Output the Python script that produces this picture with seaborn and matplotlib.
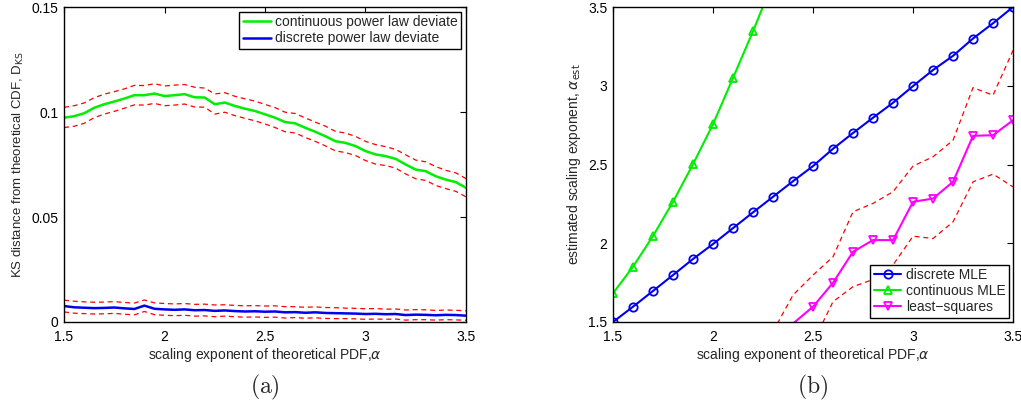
import numpy as np
import matplotlib
matplotlib.use("Agg")
import matplotlib.pyplot as plt
import seaborn as sns

sns.set_style("white")
plt.rcParams['font.family'] = ['Liberation Sans', 'DejaVu Sans']
plt.rcParams['mathtext.fontset'] = 'dejavusans'

# (a) KS distance vs alpha
alpha_a = np.linspace(1.5, 3.5, 41)
cont_ks = [0.0973, 0.0980, 0.0994, 0.1020, 0.1037, 0.1050, 0.1064, 0.1080, 0.1080, 0.1088,
           0.1076, 0.1080, 0.1085, 0.1070, 0.1069, 0.1037, 0.1045, 0.1029, 0.1016, 0.1005,
           0.0989, 0.0973, 0.0952, 0.0946, 0.0925, 0.0906, 0.0885, 0.0861, 0.0853, 0.0838,
           0.0814, 0.0798, 0.0790, 0.0777, 0.0750, 0.0726, 0.0718, 0.0694, 0.0678, 0.0666, 0.0639]
cont_hi = [0.1022, 0.1030, 0.1043, 0.1068, 0.1085, 0.1097, 0.1110, 0.1127, 0.1126, 0.1135,
           0.1124, 0.1128, 0.1131, 0.1118, 0.1114, 0.1086, 0.1092, 0.1075, 0.1063, 0.1052,
           0.1036, 0.1021, 0.0999, 0.0993, 0.0972, 0.0952, 0.0933, 0.0908, 0.0900, 0.0884,
           0.0860, 0.0845, 0.0835, 0.0822, 0.0796, 0.0771, 0.0763, 0.0740, 0.0722, 0.0710, 0.0683]
cont_lo = [0.0926, 0.0932, 0.0946, 0.0973, 0.0990, 0.1003, 0.1018, 0.1034, 0.1033, 0.1041,
           0.1030, 0.1033, 0.1038, 0.1024, 0.1023, 0.0990, 0.0999, 0.0983, 0.0970, 0.0958,
           0.0943, 0.0926, 0.0906, 0.0900, 0.0879, 0.0860, 0.0839, 0.0815, 0.0807, 0.0793,
           0.0769, 0.0752, 0.0745, 0.0733, 0.0705, 0.0682, 0.0674, 0.0650, 0.0635, 0.0622, 0.0596]
disc_ks = [0.0076, 0.0070, 0.0068, 0.0066, 0.0067, 0.0069, 0.0065, 0.0062, 0.0078, 0.0063,
           0.0060, 0.0058, 0.0060, 0.0056, 0.0057, 0.0053, 0.0055, 0.0052, 0.0050, 0.0051,
           0.0049, 0.0050, 0.0046, 0.0047, 0.0044, 0.0046, 0.0043, 0.0042, 0.0041, 0.0040,
           0.0038, 0.0039, 0.0037, 0.0038, 0.0033, 0.0035, 0.0034, 0.0032, 0.0034, 0.0033, 0.0030]
disc_hi = [0.0104, 0.0099, 0.0096, 0.0094, 0.0095, 0.0097, 0.0093, 0.0090, 0.0105, 0.0091,
           0.0088, 0.0086, 0.0088, 0.0084, 0.0085, 0.0081, 0.0082, 0.0079, 0.0077, 0.0078,
           0.0076, 0.0077, 0.0073, 0.0073, 0.0070, 0.0072, 0.0069, 0.0068, 0.0066, 0.0065,
           0.0063, 0.0064, 0.0061, 0.0062, 0.0057, 0.0059, 0.0058, 0.0055, 0.0057, 0.0056, 0.0053]
disc_lo = [0.0048, 0.0042, 0.0040, 0.0038, 0.0039, 0.0041, 0.0037, 0.0034, 0.0050, 0.0035,
           0.0032, 0.0030, 0.0032, 0.0028, 0.0029, 0.0025, 0.0028, 0.0025, 0.0023, 0.0024,
           0.0022, 0.0023, 0.0019, 0.0021, 0.0018, 0.0020, 0.0017, 0.0016, 0.0016, 0.0015,
           0.0013, 0.0014, 0.0013, 0.0014, 0.0009, 0.0011, 0.0011, 0.0009, 0.0011, 0.0010, 0.0008]

# (b) estimated alpha vs true alpha
alpha_b = [1.5, 1.6, 1.7, 1.8, 1.9, 2.0, 2.1, 2.2, 2.3, 2.4, 2.5,
           2.6, 2.7, 2.8, 2.9, 3.0, 3.1, 3.2, 3.3, 3.4, 3.5]
disc_mle = [1.50, 1.597, 1.697, 1.798, 1.90, 1.995, 2.096, 2.196, 2.295, 2.394, 2.49,
            2.60, 2.70, 2.797, 2.892, 2.998, 3.10, 3.19, 3.30, 3.397, 3.50]
alpha_c = [1.5, 1.6, 1.7, 1.8, 1.9, 2.0, 2.1, 2.2, 2.3]
cont_mle = [1.682, 1.851, 2.046, 2.263, 2.502, 2.756, 3.05, 3.346, 3.66]
alpha_ls = [2.3, 2.4, 2.5, 2.6, 2.7, 2.8, 2.9, 3.0, 3.1, 3.2, 3.3, 3.4, 3.5]
ls_est = [1.30, 1.49, 1.597, 1.749, 1.946, 2.02, 2.02, 2.263, 2.284, 2.39, 2.682, 2.686, 2.781]
ls_hi = [1.44, 1.671, 1.798, 1.914, 2.20, 2.253, 2.327, 2.49, 2.549, 2.654, 2.988, 2.94, 3.225]
ls_lo = [1.20, 1.28, 1.37, 1.629, 1.724, 1.77, 1.862, 2.045, 2.03, 2.136, 2.39, 2.439, 2.358]

GREEN = '#00ee00'
BLUE = '#0000ee'
MAGENTA = '#ff00ff'
RED = '#ff0000'

fig = plt.figure(figsize=(10.21, 4.08), dpi=100)
ax1 = fig.add_axes([0.0627, 0.2108, 0.3937, 0.772])
ax2 = fig.add_axes([0.6004, 0.2108, 0.3918, 0.772])

# --- panel (a)
sns.lineplot(x=alpha_a, y=cont_ks, ax=ax1, color=GREEN, lw=1.8,
             label='continuous power law deviate', sort=False)
sns.lineplot(x=alpha_a, y=disc_ks, ax=ax1, color=BLUE, lw=1.8,
             label='discrete power law deviate', sort=False)
for band in (cont_hi, cont_lo, disc_hi, disc_lo):
    sns.lineplot(x=alpha_a, y=band, ax=ax1, color=RED, lw=0.9,
                 linestyle=(0, (4, 3)), sort=False, legend=False)

ax1.set_xlim(1.5, 3.5)
ax1.set_ylim(0, 0.15)
ax1.set_xticks([1.5, 2, 2.5, 3, 3.5])
ax1.set_xticklabels(['1.5', '2', '2.5', '3', '3.5'])
ax1.set_yticks([0, 0.05, 0.1, 0.15])
ax1.set_yticklabels(['0', '0.05', '0.1', '0.15'])
ax1.set_xlabel(r'scaling exponent of theoretical PDF,$\alpha$', fontsize=10, labelpad=1)
ax1.set_ylabel(r'KS distance from theoretical CDF, D$_{\mathrm{KS}}$', fontsize=9.5, labelpad=4)
leg1 = ax1.legend(loc='upper right', fontsize=10, frameon=True, fancybox=False,
                  borderaxespad=0.35, handlelength=2.0, handletextpad=0.3,
                  borderpad=0.25, labelspacing=0.15)

# --- panel (b)
sns.lineplot(x=alpha_b, y=disc_mle, ax=ax2, color=BLUE, lw=1.5, marker='o',
             markersize=6, markerfacecolor='none', markeredgecolor=BLUE,
             markeredgewidth=1.3, label='discrete MLE', sort=False)
sns.lineplot(x=alpha_c, y=cont_mle, ax=ax2, color=GREEN, lw=1.5, marker='^',
             markersize=6, markerfacecolor='none', markeredgecolor=GREEN,
             markeredgewidth=1.3, markevery=slice(0, 8), label='continuous MLE', sort=False)
sns.lineplot(x=alpha_ls, y=ls_est, ax=ax2, color=MAGENTA, lw=1.5, marker='v',
             markersize=6, markerfacecolor='none', markeredgecolor=MAGENTA,
             markeredgewidth=1.3, markevery=slice(2, None), label='least\u2212squares', sort=False)
for band in (ls_hi, ls_lo):
    sns.lineplot(x=alpha_ls, y=band, ax=ax2, color=RED, lw=0.9,
                 linestyle=(0, (4, 3)), sort=False, legend=False)

ax2.set_xlim(1.5, 3.5)
ax2.set_ylim(1.5, 3.5)
ax2.set_xticks([1.5, 2, 2.5, 3, 3.5])
ax2.set_xticklabels(['1.5', '2', '2.5', '3', '3.5'])
ax2.set_yticks([1.5, 2, 2.5, 3, 3.5])
ax2.set_yticklabels(['1.5', '2', '2.5', '3', '3.5'])
ax2.set_xlabel(r'scaling exponent of theoretical PDF,$\alpha$', fontsize=10, labelpad=1)
ax2.set_ylabel(r'estimated scaling exponent, $\alpha_{\mathrm{est}}$', fontsize=10, labelpad=4)
leg2 = ax2.legend(loc='lower right', fontsize=10, frameon=True, fancybox=False,
                  borderaxespad=0.3, handlelength=2.0, handletextpad=0.3,
                  borderpad=0.25, labelspacing=0.15)

for leg in (leg1, leg2):
    leg.get_frame().set_edgecolor('black')
    leg.get_frame().set_linewidth(1.0)
    leg.get_frame().set_alpha(1)

for ax in (ax1, ax2):
    ax.tick_params(direction='in', top=True, right=True, length=4, width=0.8,
                   labelsize=10, pad=4, colors='black')
    ax.tick_params(axis='x', pad=6)
    for s in ax.spines.values():
        s.set_color('black')
        s.set_linewidth(1.0)

fig.text(0.0627 + 0.3937 / 2, 0.05, r'$\mathrm{(a)}$', ha='center', va='center',
         fontsize=17, math_fontfamily='cm')
fig.text(0.6004 + 0.3918 / 2, 0.05, r'$\mathrm{(b)}$', ha='center', va='center',
         fontsize=17, math_fontfamily='cm')

fig.savefig('out.png', dpi=100)
